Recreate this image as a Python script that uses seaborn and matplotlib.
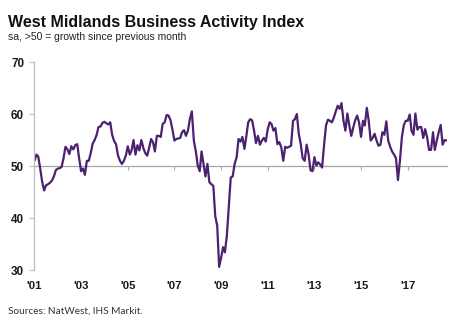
import matplotlib
matplotlib.use("Agg")
import matplotlib.pyplot as plt
import numpy as np
import pandas as pd
import seaborn as sns

# Monthly index values, Jan 2001 onwards
y2001 = [51.0, 52.2, 51.8, 49.5, 47.0, 45.3, 46.3, 46.5, 46.8, 47.2, 48.0, 49.2]
y2002 = [49.5, 49.6, 49.8, 51.5, 53.7, 53.2, 52.3, 53.8, 53.2, 54.0, 54.2, 51.5]
y2003 = [49.0, 49.5, 48.3, 51.0, 51.0, 52.5, 54.3, 55.0, 56.0, 57.5, 57.6, 58.3]
y2004 = [58.5, 58.2, 58.0, 58.4, 56.0, 54.8, 54.2, 52.0, 51.0, 50.4, 51.0, 52.0]
y2005 = [53.8, 52.2, 53.0, 55.0, 52.2, 54.0, 53.0, 55.0, 53.5, 52.5, 52.0, 53.5]
y2006 = [55.2, 54.5, 52.8, 55.8, 55.8, 55.6, 58.1, 58.4, 59.8, 59.7, 58.8, 57.0]
y2007 = [54.9, 55.2, 55.3, 55.4, 56.5, 56.9, 55.8, 56.8, 59.1, 60.5, 54.9, 52.9]
y2008 = [50.1, 49.0, 52.8, 50.3, 48.0, 50.4, 46.9, 46.5, 46.2, 40.4, 38.5, 30.6]
y2009 = [32.4, 34.4, 33.4, 36.6, 42.0, 47.8, 48.0, 50.4, 51.7, 55.2, 54.7, 55.6]
y2010 = [53.3, 55.8, 58.4, 59.0, 58.8, 56.8, 54.4, 55.8, 54.1, 54.9, 55.4, 54.7]
y2011 = [57.1, 58.4, 58.1, 56.8, 57.3, 54.2, 54.6, 53.6, 51.0, 53.7, 53.5, 53.7]
y2012 = [53.9, 58.7, 59.0, 60.0, 56.2, 54.2, 51.5, 51.0, 54.1, 52.3, 49.2, 49.0]
y2013 = [51.7, 50.1, 50.7, 50.3, 49.7, 54.0, 57.8, 58.9, 58.7, 58.4, 59.3, 60.5]
y2014 = [61.6, 61.0, 62.1, 58.7, 56.8, 60.1, 57.8, 55.8, 57.4, 58.8, 59.7, 58.4]
y2015 = [55.6, 58.7, 57.8, 61.2, 58.7, 54.9, 55.4, 56.2, 54.9, 53.9, 54.1, 56.5]
y2016 = [56.0, 58.6, 54.9, 53.7, 52.8, 52.2, 51.5, 47.3, 51.0, 55.5, 57.9, 58.7]
y2017 = [58.7, 59.9, 56.8, 56.0, 60.1, 57.0, 57.5, 57.5, 55.4, 57.1, 55.5, 53.1]
y2018 = [53.1, 56.5, 53.1, 54.9, 56.5, 57.9, 54.1, 55.0, 54.9]

values = (y2001 + y2002 + y2003 + y2004 + y2005 + y2006 + y2007 + y2008 + y2009
          + y2010 + y2011 + y2012 + y2013 + y2014 + y2015 + y2016 + y2017 + y2018)
dates = pd.date_range("2001-01-01", periods=len(values), freq="MS")

tick_years = [2001, 2003, 2005, 2007, 2009, 2011, 2013, 2015, 2017]
tick_labels = ["'01", "'03", "'05", "'07", "'09", "'11", "'13", "'15", "'17"]
y_ticks = [30, 40, 50, 60, 70]

title = "West Midlands Business Activity Index"
subtitle = "sa, >50 = growth since previous month"
source = "Sources: NatWest, IHS Markit."

line_color = "#4B2170"
axis_grey = "#BFBFBF"
mid_grey = "#A6A6A6"

df = pd.DataFrame({"date": dates, "index": values})

sns.set_theme(style="white")
plt.rcParams["font.family"] = ["Liberation Sans", "DejaVu Sans"]

fig = plt.figure(figsize=(4.61, 3.23), dpi=100)
ax = fig.add_axes([0.0748, 0.164, 0.895, 0.644])

sns.lineplot(data=df, x="date", y="index", color=line_color, linewidth=1.6, ax=ax)

ax.set_ylim(30, 70)
ax.set_xlim(pd.Timestamp("2001-01-01"), dates[-1] + pd.Timedelta(days=8))
ax.set_xlabel("")
ax.set_ylabel("")

tick_dates = [pd.Timestamp(f"{y}-01-01") for y in tick_years]

# y axis: thin grey spine with outward ticks
ax.set_yticks(y_ticks)
ax.tick_params(axis="y", left=True, direction="out", length=3.5, width=0.8,
               color=axis_grey, pad=4.0, labelsize=8.4, labelcolor="#1a1a1a")
for lab in ax.get_yticklabels():
    lab.set_fontweight("bold")

# x labels at the bottom, without tick marks
ax.set_xticks(tick_dates)
ax.set_xticklabels(tick_labels, fontweight="bold", fontsize=8.2, color="#1a1a1a")
ax.tick_params(axis="x", bottom=False, length=0, pad=8)

for side in ["top", "right", "bottom"]:
    ax.spines[side].set_visible(False)
ax.spines["left"].set_color(axis_grey)
ax.spines["left"].set_linewidth(0.9)

# reference line at 50 carrying the year ticks
mid = ax.secondary_xaxis(0.5)
mid.set_alignment("bottom")
mid.set_xticks(tick_dates)
mid.set_xticklabels([])
mid.tick_params(axis="x", bottom=True, top=False, direction="out", length=3,
                width=0.8, color=mid_grey)
mid.spines["bottom"].set_color(mid_grey)
mid.spines["bottom"].set_linewidth(0.9)
mid.set_zorder(1)
ax.set_zorder(2)
ax.patch.set_visible(False)

fig.text(0.017, 0.915, title, fontsize=11.5, fontweight="bold", color="#111111",
         ha="left", va="baseline")
fig.text(0.017, 0.875, subtitle, fontsize=7.5, color="#222222",
         ha="left", va="baseline")
fig.text(0.017, 0.028, source, fontsize=7.2, color="#333333", ha="left",
         va="baseline", family=["Lato", "DejaVu Sans"])

fig.savefig("out.png", dpi=100)
